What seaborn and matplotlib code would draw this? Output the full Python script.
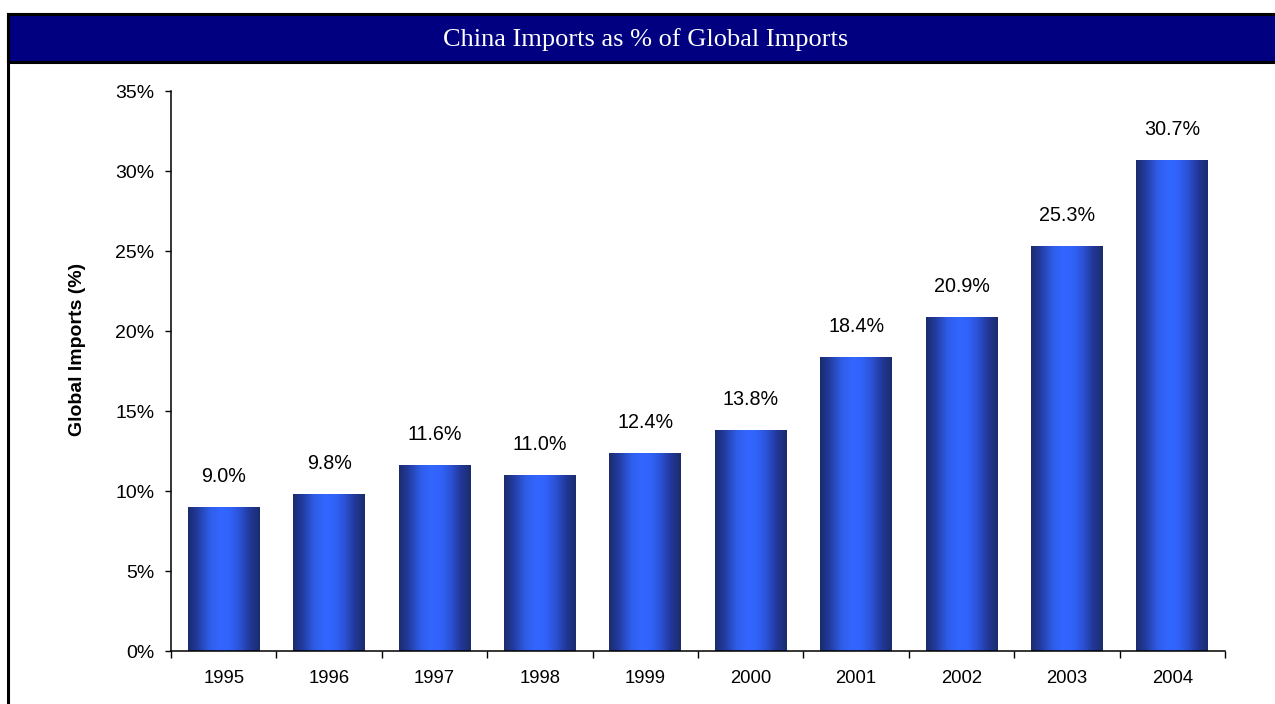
import numpy as np
import pandas as pd
import matplotlib
matplotlib.use("Agg")
import matplotlib.pyplot as plt
from matplotlib.colors import LinearSegmentedColormap
from matplotlib.patches import Rectangle
from matplotlib.ticker import FuncFormatter, MultipleLocator
import seaborn as sns

years = ["1995", "1996", "1997", "1998", "1999", "2000", "2001", "2002", "2003", "2004"]
share = [9.0, 9.8, 11.6, 11.0, 12.4, 13.8, 18.4, 20.9, 25.3, 30.7]

title = "China Imports as % of Global Imports"
ylabel = "Global Imports (%)"

sns.set_theme(style="white")
plt.rcParams["font.family"] = ["Liberation Sans", "DejaVu Sans"]

fig = plt.figure(figsize=(12.75, 7.04), dpi=100)
fig.patch.set_facecolor("white")

# outer frame and title band
frame = Rectangle((8 / 1275, -0.05), 1.1, 1 - 14 / 704 + 0.05, transform=fig.transFigure,
                  facecolor="none", edgecolor="black", linewidth=2.2, zorder=0)
fig.add_artist(frame)
band = Rectangle((8 / 1275, 1 - 62 / 704), 1.1, (62 - 14) / 704, transform=fig.transFigure,
                 facecolor="#000080", edgecolor="black", linewidth=2.2, zorder=1)
fig.add_artist(band)
fig.text(645.5 / 1275, 1 - 40 / 704, title, color="white", ha="center", va="center",
         fontsize=19, family=["Liberation Serif", "DejaVu Serif"])

ax = fig.add_axes([171 / 1275, 1 - 651 / 704, (1225 - 171) / 1275, (651 - 91) / 704])
df = pd.DataFrame({"year": years, "share": share})
sns.barplot(data=df, x="year", y="share", ax=ax, width=0.68, color="#3366ff",
            saturation=1, edgecolor="none")

# cylinder-like horizontal shading on each bar
cmap = LinearSegmentedColormap.from_list("cyl", [
    (0.0, "#1a2c6c"), (0.12, "#22399a"), (0.30, "#2f5de8"), (0.45, "#3366ff"),
    (0.58, "#3163fa"), (0.72, "#2b52d6"), (0.86, "#22389a"), (1.0, "#1a2c6c")])
grad = np.linspace(0, 1, 256).reshape(1, -1)
for p in list(ax.patches):
    x0, w, h = p.get_x(), p.get_width(), p.get_height()
    p.set_facecolor("none")
    im = ax.imshow(grad, cmap=cmap, aspect="auto", extent=(x0, x0 + w, 0, h),
                   interpolation="bicubic", zorder=2)
    im.set_clip_path(p)

ax.set_xlim(-0.5, len(years) - 0.5)
ax.set_ylim(0, 35)

for i, v in enumerate(share):
    ax.annotate(f"{v:.1f}%", (i, v), xytext=(0, 22), textcoords="offset points",
                ha="center", va="center", fontsize=14.2, color="black")

ax.yaxis.set_major_locator(MultipleLocator(5))
ax.yaxis.set_major_formatter(FuncFormatter(lambda v, _: f"{v:.0f}%"))
ax.set_xticks(np.arange(len(years)))
ax.set_xticklabels(years)
ax.set_xticks(np.arange(len(years) + 1) - 0.5, minor=True)

for s in ["top", "right"]:
    ax.spines[s].set_visible(False)
for s in ["left", "bottom"]:
    ax.spines[s].set_color("black")
    ax.spines[s].set_linewidth(1.1)

ax.tick_params(axis="y", which="major", direction="out", length=4, width=1, color="black",
               left=True, labelsize=14, labelcolor="black", pad=8)
ax.tick_params(axis="x", which="major", length=0, labelsize=13.3, labelcolor="black", pad=14)
ax.tick_params(axis="x", which="minor", direction="out", length=5, width=1, color="black",
               bottom=True)
ax.set_xlabel("")
ax.set_ylabel(ylabel, fontsize=14, fontweight="bold", color="black")
ax.yaxis.label.set_va("center")
ax.yaxis.set_label_coords((78 - 171) / 1054, (651 - 349) / 560)
ax.grid(False)

fig.savefig("out.png", dpi=100, facecolor="white")
